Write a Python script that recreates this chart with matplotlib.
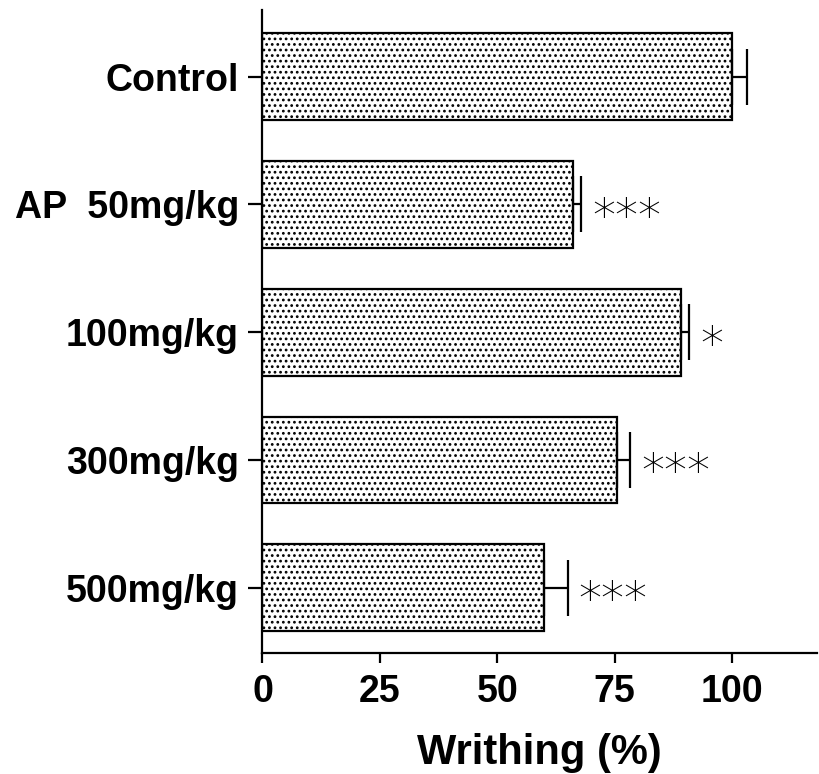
import matplotlib
matplotlib.use("Agg")
import matplotlib.pyplot as plt
import numpy as np

# Writhing response (% of control), mean and SEM per group
groups = ["Control", "AP  50mg/kg", "100mg/kg", "300mg/kg", "500mg/kg"]
writhing = [100.0, 66.2, 89.2, 75.5, 60.0]
sem = [3.2, 1.6, 1.7, 2.8, 5.0]
stars = ["", "***", "*", "***", "***"]
xticks = [0, 25, 50, 75, 100]

plt.rcParams["font.family"] = ["Liberation Sans", "DejaVu Sans"]
plt.rcParams["hatch.linewidth"] = 1.2

fig = plt.figure(figsize=(8.19, 7.74), dpi=100)
ax = fig.add_axes([0.3205, 0.1563, 0.677, 0.8307])

y = np.arange(len(groups))
bars = ax.barh(y, writhing, height=0.68, color="white", edgecolor="black",
               linewidth=1.6, hatch="...", zorder=2)

# one-sided error bars (upper side only)
ax.errorbar(writhing, y, xerr=[np.zeros(len(sem)), sem], fmt="none",
            ecolor="black", elinewidth=1.6, capsize=20, capthick=1.6, zorder=3)

# significance marks
for yi, val, err, s in zip(y, writhing, sem, stars):
    if s:
        ax.annotate(s, xy=(val + err, yi), xytext=(8, -19), textcoords="offset points",
                    ha="left", va="baseline", fontsize=33, family="DejaVu Sans",
                    fontweight="light")

ax.set_xlim(0, 118.1)
ax.set_ylim(len(groups) - 0.49, -0.52)
ax.set_xticks(xticks)
ax.set_xticklabels([str(t) for t in xticks], fontsize=27, fontweight="bold")
ax.set_yticks(y)
ax.set_yticklabels(groups, fontsize=27, fontweight="bold")

ax.tick_params(axis="x", direction="out", length=7, width=1.6, pad=8)
ax.tick_params(axis="y", direction="out", length=10, width=1.6, pad=7)

for side in ["top", "right"]:
    ax.spines[side].set_visible(False)
for side in ["left", "bottom"]:
    ax.spines[side].set_linewidth(1.6)

ax.set_xlabel("Writhing (%)", fontsize=30, fontweight="bold", labelpad=17)

fig.savefig("out.png", dpi=100)
